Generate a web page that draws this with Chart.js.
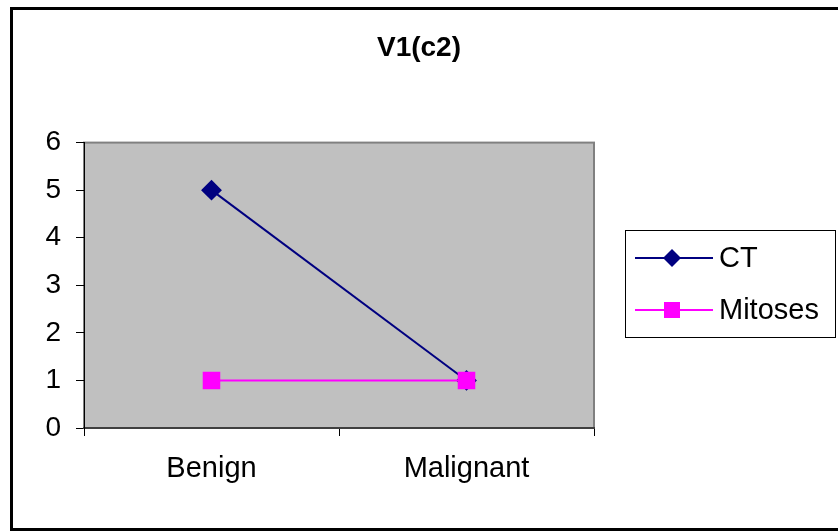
<!DOCTYPE html>
<html>
<head>
<meta charset="utf-8">
<script src="https://cdn.jsdelivr.net/npm/chart.js@4"></script>
<style>
    html, body { margin: 0; padding: 0; background: #ffffff; }
    #wrap { width: 838px; height: 531px; }
</style>
</head>
<body>
<div id="wrap"><canvas id="chart" width="838" height="531"></canvas></div>
<script>
// Chart data
const chartTitle = 'V1(c2)';
const categories = ['Benign', 'Malignant'];
const ctValues = [5, 1];
const mitosesValues = [1, 1];
const yTicks = [0, 1, 2, 3, 4, 5, 6];

const FONT = "'Liberation Sans', Arial, sans-serif";

// Gray plot area, outer frame and legend box
const excelLook = {
    id: 'excelLook',
    beforeDraw(chart) {
        const { ctx, chartArea: a } = chart;
        ctx.save();
        ctx.fillStyle = '#ffffff';
        ctx.fillRect(0, 0, chart.width, chart.height);
        ctx.fillStyle = '#c0c0c0';
        ctx.fillRect(a.left, a.top, a.right - a.left, a.bottom - a.top);
        ctx.strokeStyle = '#808080';
        ctx.lineWidth = 2;
        ctx.strokeRect(a.left, a.top, a.right - a.left, a.bottom - a.top);
        // outer frame
        ctx.strokeStyle = '#000000';
        ctx.lineWidth = 3;
        ctx.strokeRect(11.5, 8.5, 840, 521);
        ctx.restore();
    },
    afterDraw(chart) {
        const { ctx } = chart;
        const box = { x: 625.5, y: 230.5, w: 210, h: 107 };
        ctx.save();
        ctx.fillStyle = '#ffffff';
        ctx.fillRect(box.x, box.y, box.w, box.h);
        ctx.strokeStyle = '#000000';
        ctx.lineWidth = 1;
        ctx.strokeRect(box.x, box.y, box.w, box.h);
        chart.data.datasets.forEach((ds, i) => {
            const y = 258 + i * 52;
            ctx.strokeStyle = ds.borderColor;
            ctx.lineWidth = 2;
            ctx.beginPath();
            ctx.moveTo(635, y);
            ctx.lineTo(713, y);
            ctx.stroke();
            ctx.fillStyle = ds.pointBackgroundColor;
            const cx = 672;
            if (ds.pointStyle === 'rectRot') {
                ctx.beginPath();
                ctx.moveTo(cx, y - 9);
                ctx.lineTo(cx + 9, y);
                ctx.lineTo(cx, y + 9);
                ctx.lineTo(cx - 9, y);
                ctx.closePath();
                ctx.fill();
            } else {
                ctx.fillRect(cx - 8, y - 8, 16, 16);
            }
            ctx.fillStyle = '#000000';
            ctx.font = '29px ' + FONT;
            ctx.textBaseline = 'middle';
            ctx.textAlign = 'left';
            ctx.fillText(ds.label, 719, y + 1);
        });
        ctx.restore();
    }
};

const ctx = document.getElementById('chart').getContext('2d');
new Chart(ctx, {
    type: 'line',
    data: {
        labels: categories,
        datasets: [
            {
                label: 'CT',
                data: ctValues,
                borderColor: '#000080',
                backgroundColor: '#000080',
                pointBackgroundColor: '#000080',
                pointBorderColor: '#000080',
                pointStyle: 'rectRot',
                pointRadius: 9,
                borderWidth: 2,
                order: 1
            },
            {
                label: 'Mitoses',
                data: mitosesValues,
                borderColor: '#ff00ff',
                backgroundColor: '#ff00ff',
                pointBackgroundColor: '#ff00ff',
                pointBorderColor: '#ff00ff',
                pointStyle: 'rect',
                pointRadius: 11,
                borderWidth: 2,
                order: 0
            }
        ]
    },
    options: {
        responsive: false,
        animation: false,
        layout: { padding: 0 },
        plugins: {
            legend: { display: false },
            tooltip: { enabled: false },
            title: {
                display: true,
                text: chartTitle,
                color: '#000000',
                font: { family: FONT, size: 28, weight: 'bold', lineHeight: 1.2 },
                padding: { top: 31, bottom: 78 }
            }
        },
        scales: {
            x: {
                offset: true,
                grid: { display: true, drawOnChartArea: false, offset: true, color: '#000000', tickLength: 8 },
                border: { display: true, color: '#404040', width: 2 },
                ticks: { color: '#000000', padding: 16, font: { family: FONT, size: 29 } },
                afterFit(s) { s.height = 103; }
            },
            y: {
                min: 0,
                max: 6,
                afterBuildTicks(s) { s.ticks = yTicks.map(v => ({ value: v })); },
                grid: { display: true, drawOnChartArea: false, color: '#000000', tickLength: 8 },
                border: { display: true, color: '#000000', width: 1 },
                ticks: { color: '#000000', padding: 15, font: { family: FONT, size: 28 } },
                afterFit(s) { s.width = 84; }
            },
            // empty axis that keeps room for the legend on the right
            legendSpace: {
                type: 'linear',
                position: 'right',
                display: true,
                grid: { display: false, drawTicks: false },
                border: { display: false },
                ticks: { display: false },
                afterFit(s) { s.width = 244; }
            }
        }
    },
    plugins: [excelLook]
});
</script>
</body>
</html>
